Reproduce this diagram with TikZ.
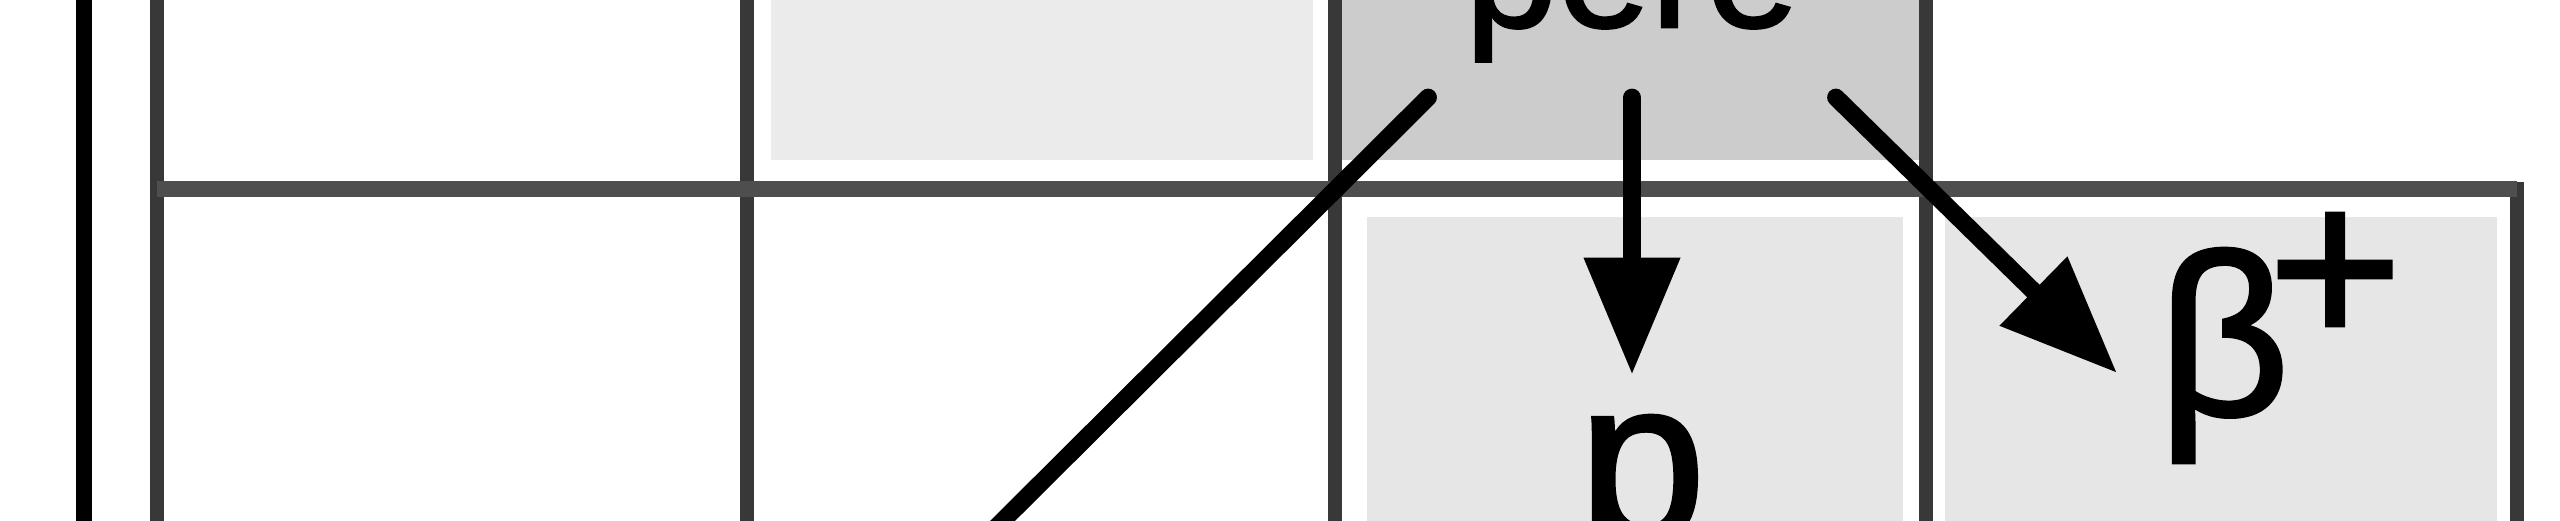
\documentclass[tikz,border=0pt]{standalone}
\usepackage{fontspec}
\setmainfont{Liberation Sans}
\newfontfamily\labelfont{Liberation Sans}[FakeBold=1.5]
\usetikzlibrary{arrows.meta}
\definecolor{celllight}{HTML}{EBEBEB}
\definecolor{celldark}{HTML}{CCCCCC}
\definecolor{cellmid}{HTML}{E6E6E6}
\definecolor{gridv}{HTML}{383838}
\definecolor{gridh}{HTML}{4E4E4E}
\begin{document}
\begin{tikzpicture}[x=0.01cm, y=-0.01cm,
  vline/.style={draw=gridv, line width=4.2pt},
  edgeline/.style={draw=black, line width=4.8pt},
  hline/.style={draw=gridh, line width=4.6pt},
  decay/.style={draw=black, line width=5pt, line cap=round, -{Triangle[length=1.17cm, width=0.92cm]}},
  plainline/.style={draw=black, line width=5pt, line cap=round},
  parent/.style={font=\labelfont\fontsize{47.5}{50}\selectfont, inner xsep=0.36cm, inner ysep=0.35cm, anchor=base},
  daughter/.style={font=\labelfont\fontsize{65.4}{70}\selectfont, anchor=base, inner xsep=0pt, inner ysep=0.4cm},
  mode/.style={font=\labelfont\fontsize{65.4}{70}\selectfont, anchor=base west, inner sep=0pt}]
\useasboundingbox (0,0) rectangle (2560,520);
\clip (0,0) rectangle (2560,520);
\fill[white] (0,0) rectangle (2560,520);
% cell fills
\fill[celllight] (771,-20) rectangle (1313,160);
\fill[celldark] (1340,-20) rectangle (1921,160);
\fill[cellmid] (1367,217) rectangle (1903,540);
\fill[cellmid] (1945,217) rectangle (2497,540);
% grid
\draw[edgeline] (84,-10) -- (84,530);
\foreach \x in {157,747,1335,1926} \draw[vline] (\x,-10) -- (\x,530);
\draw[vline] (2517,182) -- (2517,530);
\draw[hline] (157,189) -- (2517,189);
% texts
\node[parent] (pere) at (1632,27) {pere};
\node[daughter] (p) at (1642,539) {p};
\node[mode] (beta) at (2157,415) {β\kern-0.22cm\raisebox{0.69cm}{+}};
\coordinate (btip) at (2117,373);
\coordinate (dlend) at (903,620);
% connectors
\draw[plainline] (pere.south west) -- (dlend);
\draw[decay] (pere.south) -- (pere.south |- p.north);
\draw[decay] (pere.south east) -- (btip);
\end{tikzpicture}
\end{document}
